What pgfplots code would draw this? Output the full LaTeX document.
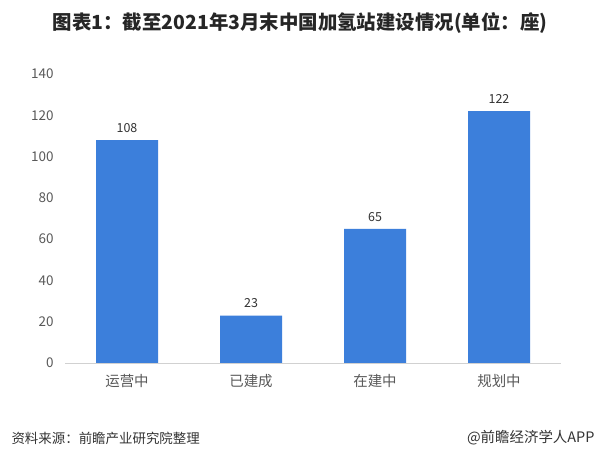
\documentclass[border=0pt]{standalone}
\usepackage{fontspec}
\setmainfont{Noto Sans CJK SC}
\usepackage{pgfplots}
\pgfplotsset{compat=1.18}
\definecolor{barblue}{HTML}{3C7FDB}
\definecolor{tickgrey}{HTML}{595959}
\begin{document}
\begin{tikzpicture}[x=1bp,y=1bp]
\path[fill=white] (0,0) rectangle (600,465);
\node[font=\bfseries\fontsize{19.5}{22}\selectfont, text=black!85] at (300,442) {图表1：截至2021年3月末中国加氢站建设情况(单位：座)};
\node[anchor=west, font=\fontsize{13.5}{15}\selectfont, text=black!80] at (8,27) {资料来源：前瞻产业研究院整理};
\node[anchor=east, font=\fontsize{14.5}{16}\selectfont, text=black!80] at (598,27) {@前瞻经济学人APP};
\begin{axis}[
  at={(65bp,102bp)}, anchor=south west,
  scale only axis, width=496bp, height=289bp,
  xmin=-0.5, xmax=3.5, ymin=0, ymax=140,
  ytick={0,20,...,140},
  xtick=data,
  xticklabels={运营中,已建成,在建中,规划中},
  axis y line=none,
  axis x line*=bottom,
  axis line style={draw=black!18},
  x axis line style={-},
  xtick style={draw=none},
  ytick style={draw=none},
  /pgf/number format/assume math mode=true,
  tick label style={font=\fontsize{13}{15}\selectfont, text=tickgrey},
  xticklabel style={yshift=-4bp, font=\fontsize{14.5}{16}\selectfont},
  ybar, bar width=62bp,
  nodes near coords,
  every node near coord/.append style={font=\fontsize{12.5}{14}\selectfont, text=black!80, yshift=4bp},
  clip=false,
]
\addplot[fill=barblue, draw=none] coordinates {(0,108) (1,23) (2,65) (3,122)};
\end{axis}
\begin{axis}[
  at={(65bp,102bp)}, anchor=south west,
  scale only axis, width=496bp, height=289bp,
  xmin=-0.5, xmax=3.5, ymin=0, ymax=140,
  ytick={0,20,...,140},
  axis x line=none, axis y line*=left,
  y axis line style={draw=none},
  ytick style={draw=none},
  /pgf/number format/assume math mode=true,
  yticklabel style={font=\fontsize{13.5}{15}\selectfont, text=tickgrey, xshift=-8bp},
]
\end{axis}
\end{tikzpicture}
\end{document}
